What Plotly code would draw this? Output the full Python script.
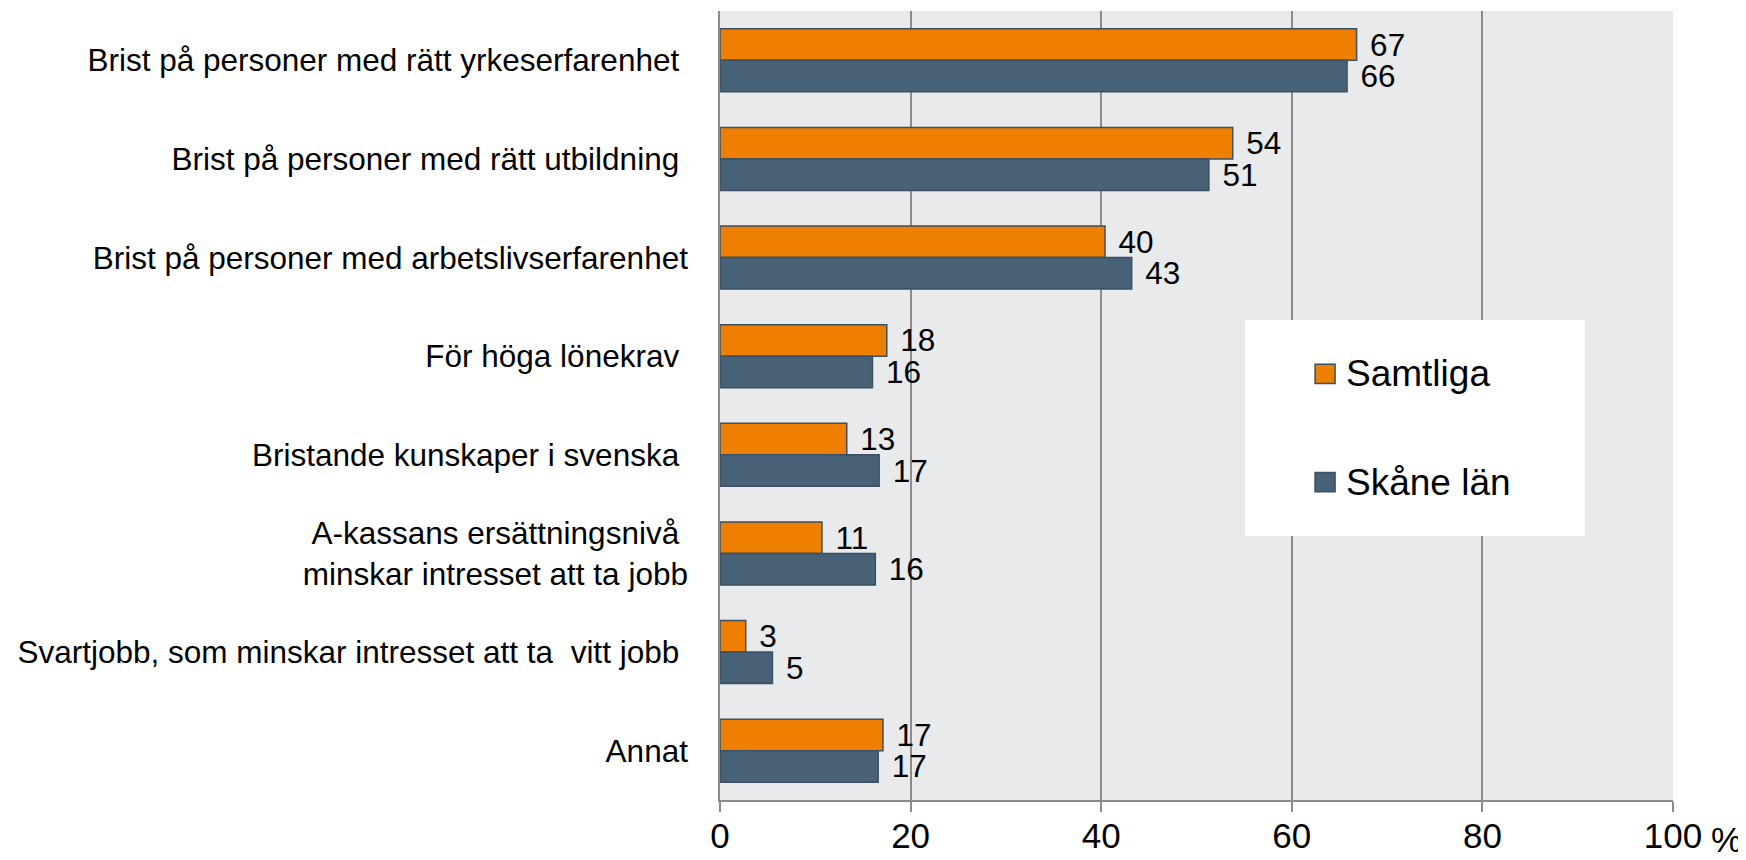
import plotly.graph_objects as go

# Categories (top to bottom) and the two series, in percent
categories = [
    "Brist på personer med rätt yrkeserfarenhet\u00a0",
    "Brist på personer med rätt utbildning\u00a0",
    "Brist på personer med arbetslivserfarenhet",
    "För höga lönekrav\u00a0",
    "Bristande kunskaper i svenska\u00a0",
    "A-kassans ersättningsnivå\u00a0<br>minskar intresset att ta jobb",
    "Svartjobb, som minskar intresset att ta\u00a0 vitt jobb\u00a0",
    "Annat",
]
samtliga = [66.8, 53.8, 40.4, 17.5, 13.3, 10.7, 2.7, 17.1]
skane = [65.8, 51.3, 43.2, 16.0, 16.7, 16.3, 5.5, 16.6]
samtliga_labels = ["67", "54", "40", "18", "13", "11", "3", "17"]
skane_labels = ["66", "51", "43", "16", "17", "16", "5", "17"]
tick_vals = [0, 20, 40, 60, 80, 100]
tick_text = ["0", "20", "40", "60", "80", "100"]

ORANGE = "#EE7F00"
SLATE = "#476176"
EDGE = "#3B5064"
GRID = "#8C8C8C"
FONT = "Arial, Liberation Sans, sans-serif"

fig = go.Figure()

fig.add_trace(go.Bar(
    y=categories, x=samtliga, name="Samtliga", orientation="h",
    marker=dict(color=ORANGE, line=dict(color=EDGE, width=1.5)),
    text=samtliga_labels, texttemplate="\u2004%{text}", textposition="outside",
    textfont=dict(size=31.5, color="black", family=FONT), constraintext="none",
    cliponaxis=False, showlegend=False,
))
fig.add_trace(go.Bar(
    y=categories, x=skane, name="Skåne län", orientation="h",
    marker=dict(color=SLATE, line=dict(color=EDGE, width=1.5)),
    text=skane_labels, texttemplate="\u2004%{text}", textposition="outside",
    textfont=dict(size=31.5, color="black", family=FONT), constraintext="none",
    cliponaxis=False, showlegend=False,
))

# page body has an 8px margin, so the figure is shifted by 8px
fig.update_layout(
    width=1738, height=852,
    margin=dict(l=712, r=73, t=3, b=60),
    paper_bgcolor="white", plot_bgcolor="#E9EAEC",
    barmode="group", bargap=0.36, bargroupgap=0,
    font=dict(family=FONT, color="black"),
)

fig.update_xaxes(
    range=[0, 100], tickvals=tick_vals, ticktext=tick_text,
    showgrid=True, gridcolor=GRID, gridwidth=1.5,
    showline=True, linecolor=GRID, linewidth=1.5,
    ticks="outside", ticklen=10, tickcolor=GRID, tickwidth=1.5,
    tickfont=dict(size=35, family=FONT, color="black"),
    ticklabelstandoff=-6,
    zeroline=False, automargin=False,
)
fig.update_yaxes(
    autorange="reversed", showgrid=False,
    showline=True, linecolor=GRID, linewidth=1.5,
    ticks="", ticklabelstandoff=24,
    tickfont=dict(size=31.5, family=FONT, color="black"),
    automargin=False,
)

# percent sign after the last tick label
fig.add_annotation(
    text="%", xref="paper", yref="paper", x=1.038, y=-0.05,
    xanchor="left", yanchor="middle", showarrow=False,
    font=dict(size=35, family=FONT, color="black"),
)

# legend box drawn over the gridlines
fig.add_shape(type="rect", xref="paper", yref="paper",
              x0=0.5509, x1=0.9077, y0=0.3346, y1=0.6084,
              fillcolor="white", line=dict(width=0), layer="above")
legend_items = [("Samtliga", ORANGE, 0.540), ("Skåne län", SLATE, 0.403)]
for name, color, yc in legend_items:
    fig.add_shape(type="rect", xref="paper", yref="paper",
                  x0=0.6244, x1=0.6454, y0=yc - 0.0122, y1=yc + 0.0122,
                  fillcolor=color, line=dict(color=EDGE, width=1.5), layer="above")
    fig.add_annotation(
        text=name, xref="paper", yref="paper", x=0.6548, y=yc,
        xanchor="left", yanchor="middle", showarrow=False,
        font=dict(size=37, family=FONT, color="black"),
    )

fig.write_html("out.html")
